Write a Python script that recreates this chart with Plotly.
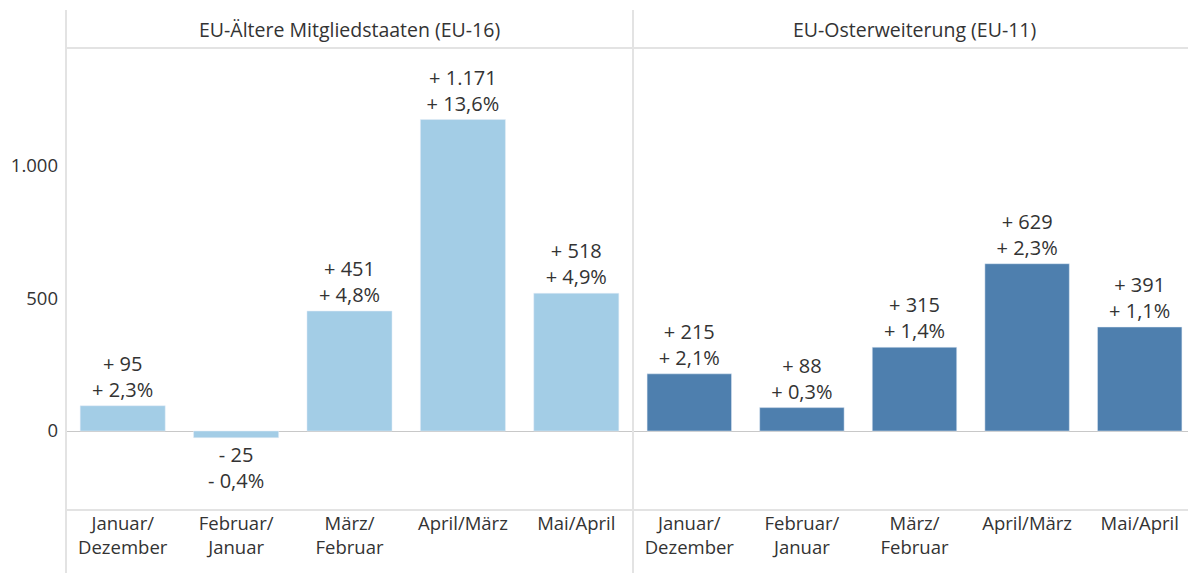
import plotly.graph_objects as go

categories = ["Januar/<br>Dezember", "Februar/<br>Januar", "März/<br>Februar", "April/März", "Mai/April"]
panel_titles = ["EU-Ältere Mitgliedstaaten (EU-16)", "EU-Osterweiterung (EU-11)"]
eu16_values = [95, -25, 451, 1171, 518]
eu16_pct = ["+ 2,3%", "- 0,4%", "+ 4,8%", "+ 13,6%", "+ 4,9%"]
eu11_values = [215, 88, 315, 629, 391]
eu11_pct = ["+ 2,1%", "+ 0,3%", "+ 1,4%", "+ 2,3%", "+ 1,1%"]
y_ticks = [0, 500, 1000]
y_tick_labels = ["0", "500", "1.000"]

FONT = "Open Sans"
TXT = "#333333"
LINE = "#e3e3e3"


def fmt(v):
    s = f"{abs(v):,}".replace(",", ".")
    return ("+ " if v >= 0 else "- ") + s


def labels(vals, pcts):
    return [f"{fmt(v)}<br>{p}" for v, p in zip(vals, pcts)]


fig = go.Figure()
fig.add_trace(go.Bar(x=categories, y=eu16_values, text=labels(eu16_values, eu16_pct),
                     marker_color="#a3cde6", width=0.75, textposition="outside",
                     textfont=dict(size=20, color=TXT, family=FONT), cliponaxis=False,
                     xaxis="x", yaxis="y", hoverinfo="skip"))
fig.add_trace(go.Bar(x=categories, y=eu11_values, text=labels(eu11_values, eu11_pct),
                     marker_color="#4e7fae", width=0.75, textposition="outside",
                     textfont=dict(size=20, color=TXT, family=FONT), cliponaxis=False,
                     xaxis="x2", yaxis="y2", hoverinfo="skip"))

# page body has an 8px margin; size the figure so the plot area lands at 66..1196 x 48..510
split = (633 - 66) / 1130
yr = [-297, 1440]
common_x = dict(showgrid=False, zeroline=False, showline=False, ticks="",
                tickfont=dict(size=18.5, color=TXT, family=FONT), fixedrange=True)
fig.update_layout(
    width=1188, height=565,
    margin=dict(l=58, r=0, t=40, b=63, autoexpand=False),
    paper_bgcolor="white", plot_bgcolor="white",
    showlegend=False,
    xaxis=dict(domain=[0, split], **common_x),
    xaxis2=dict(domain=[split, 1], anchor="y2", **common_x),
    yaxis=dict(range=yr, tickvals=y_ticks, ticktext=y_tick_labels,
               tickfont=dict(size=18.5, color=TXT, family=FONT), showgrid=False,
               zeroline=True, zerolinecolor="#c8c8c8", zerolinewidth=1,
               ticks="", ticklabelstandoff=7),
    yaxis2=dict(range=yr, anchor="x2", showticklabels=False, showgrid=False,
                zeroline=True, zerolinecolor="#c8c8c8", zerolinewidth=1),
    bargap=0.25,
)

top = 1 + 38 / 462
bottom = -63 / 462
shapes = [
    dict(type="line", xref="paper", yref="paper", x0=0, x1=0, y0=bottom, y1=top),
    dict(type="line", xref="paper", yref="paper", x0=split, x1=split, y0=bottom, y1=top),
    dict(type="line", xref="paper", yref="paper", x0=0, x1=1, y0=1, y1=1),
    dict(type="line", xref="paper", yref="paper", x0=0, x1=1, y0=0, y1=0),
]
for s in shapes:
    s["line"] = dict(color=LINE, width=2)
fig.update_layout(shapes=shapes)

centers = [split / 2, (split + 1) / 2]
for c, t in zip(centers, panel_titles):
    fig.add_annotation(x=c, y=1 + 19 / 462, xref="paper", yref="paper", text=t,
                       showarrow=False, font=dict(size=19.5, color=TXT, family=FONT),
                       xanchor="center", yanchor="middle")

fig.write_html("out.html")
